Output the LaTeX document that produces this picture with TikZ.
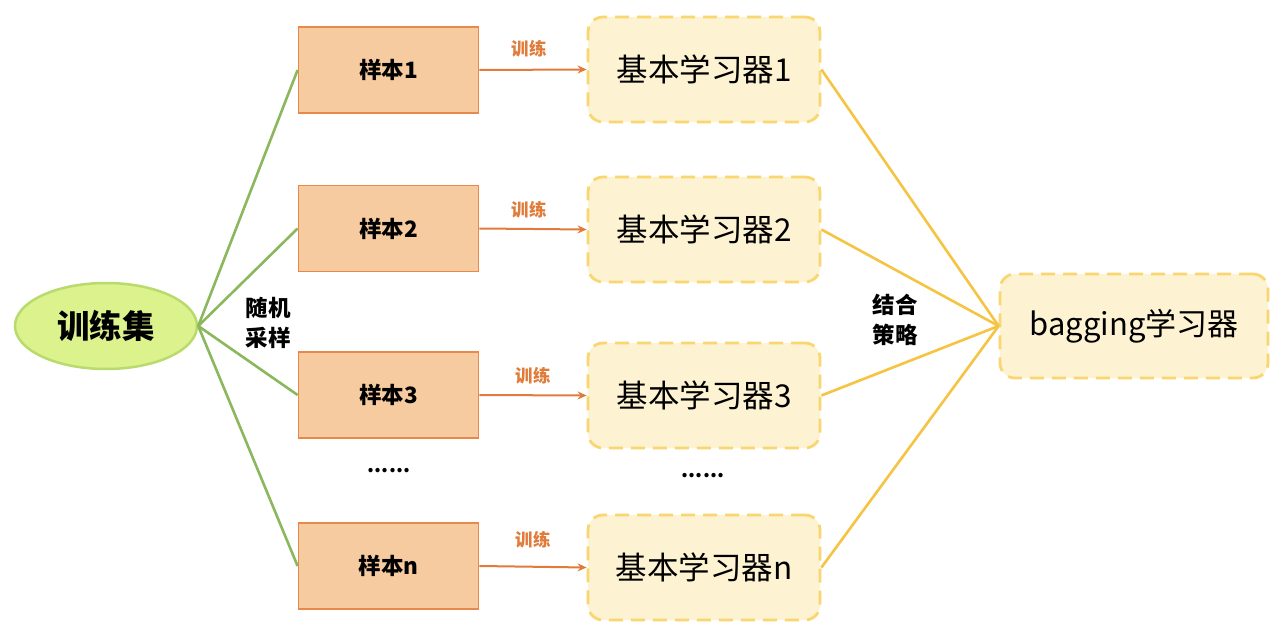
\documentclass[tikz,border=0pt]{standalone}
\usepackage{fontspec}
\setmainfont{Noto Sans CJK SC}
\usetikzlibrary{arrows.meta,shapes.geometric}
\definecolor{limefill}{HTML}{DCF28C}
\definecolor{limeline}{HTML}{B9DB6E}
\definecolor{greenline}{HTML}{8BB85C}
\definecolor{samplefill}{HTML}{F7CBA0}
\definecolor{sampleline}{HTML}{E8894C}
\definecolor{learnfill}{HTML}{FDF2D2}
\definecolor{learnline}{HTML}{F9D66F}
\definecolor{yelline}{HTML}{F5C443}
\definecolor{arrowc}{HTML}{E07B39}
\tikzset{
  samplebox/.style={draw=sampleline, fill=samplefill, line width=1.8pt, minimum width=180, minimum height=86, inner sep=0pt, font=\fontsize{22.5}{22.5}\selectfont\bfseries},
  learnbox/.style={draw=learnline, fill=learnfill, line width=2.8pt, dash pattern=on 14pt off 8pt, rounded corners=15pt, minimum width=232, minimum height=105, inner sep=0pt, font=\fontsize{31.5}{31.5}\selectfont},
  gline/.style={draw=greenline, line width=2.6pt},
  yline/.style={draw=yelline, line width=2.6pt},
  trainarrow/.style={draw=arrowc, line width=2pt, -{Stealth[length=9pt,width=8pt]}},
  trainlabel/.style={text=arrowc, font=\fontsize{17.5}{17.5}\selectfont\bfseries, inner sep=0pt},
  sidelabel/.style={align=center, font=\fontsize{22.5}{30}\selectfont\bfseries, inner sep=0pt},
  dotslabel/.style={font=\fontsize{20}{20}\selectfont\bfseries, inner sep=0pt}
}
\begin{document}
\begin{tikzpicture}[x=1pt,y=-1pt]
\useasboundingbox (0,0) rectangle (1280,639);
\fill[white] (0,0) rectangle (1280,639);
\node[ellipse, draw=limeline, fill=limefill, line width=2.5pt, minimum width=182, minimum height=86, inner sep=0pt, font=\fontsize{32.5}{32.5}\selectfont\bfseries] (train) at (106,326) {训练集};
\node[samplebox] (s1) at (388.5,70) {样本1};
\node[samplebox] (s2) at (388.5,228.5) {样本2};
\node[samplebox] (s3) at (388.5,395) {样本3};
\node[samplebox] (sn) at (388.5,566) {样本n};
\node[learnbox] (l1) at (704,69.5) {基本学习器1};
\node[learnbox] (l2) at (704,229.5) {基本学习器2};
\node[learnbox] (l3) at (704,395.5) {基本学习器3};
\node[learnbox] (ln) at (704,567.5) {基本学习器n};
\node[learnbox, minimum width=268, minimum height=104, font=\fontsize{31}{31}\selectfont] (bag) at (1134,326) {bagging学习器};
\foreach \s in {s1,s2,s3,sn} \draw[gline] (train.east) -- (\s.west);
\foreach \l in {l1,l2,l3,ln} \draw[yline] (\l.east) -- (bag.west);
\draw[trainarrow] (s1.east) -- (l1.west);
\draw[trainarrow] (s2.east) -- (l2.west);
\draw[trainarrow] (s3.east) -- (l3.west);
\draw[trainarrow] (sn.east) -- (ln.west);
\node[trainlabel] (t1) at (529,49) {训练};
\node[trainlabel] (t2) at (529,210) {训练};
\node[trainlabel] (t3) at (533,376) {训练};
\node[trainlabel] (tn) at (533,540) {训练};
\node[sidelabel] (rs) at (268,323) {随机\\采样};
\node[sidelabel] (cs) at (895,320) {结合\\策略};
\node[dotslabel] (d1) at (389,471) {......};
\node[dotslabel] (d2) at (703,476) {......};
\end{tikzpicture}
\end{document}
